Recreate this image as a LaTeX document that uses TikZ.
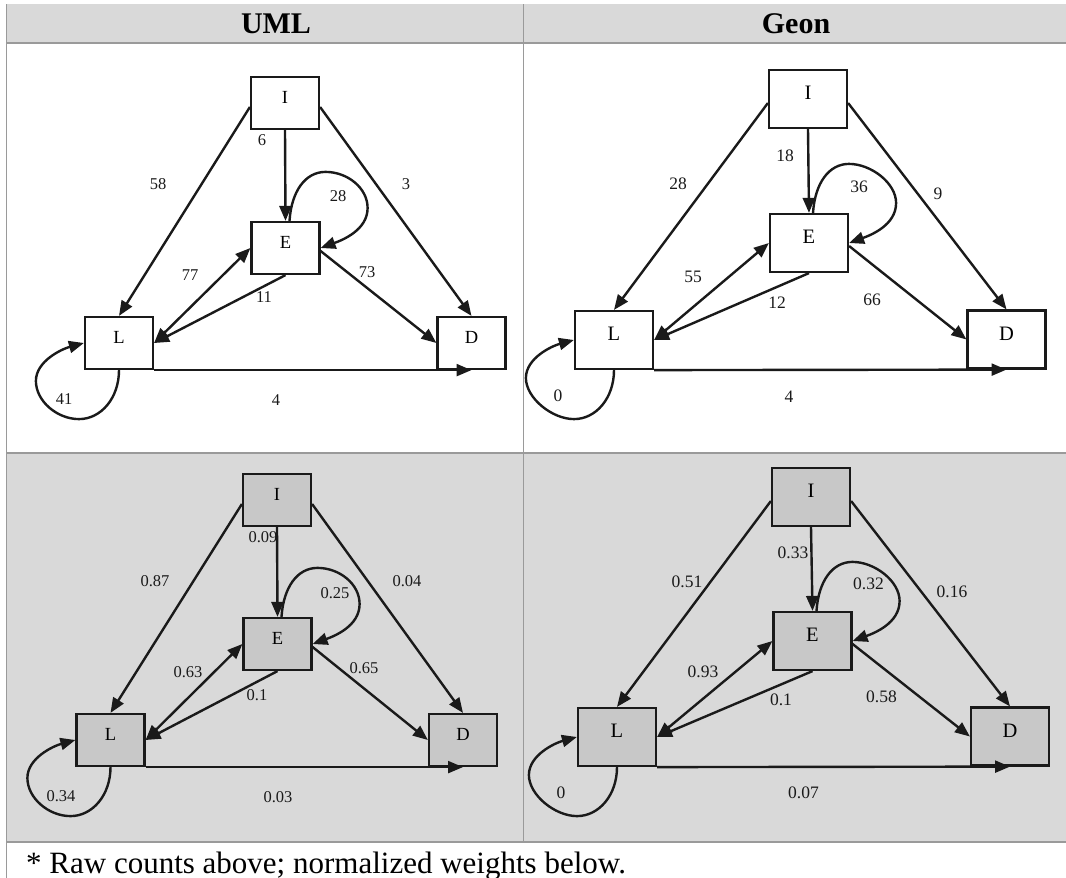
\documentclass[tikz,border=0pt]{standalone}
\usepackage{fontspec}
\setmainfont{Liberation Serif}
\usetikzlibrary{arrows.meta,calc}
\definecolor{bandgray}{HTML}{D9D9D9}
\definecolor{boxgray}{HTML}{C8C8C8}
\definecolor{rulegray}{HTML}{9A9A9A}
\definecolor{inkc}{HTML}{1A1A1A}
\tikzset{
  stbox/.style={draw=inkc, line width=2.2pt, rectangle, inner sep=0pt, text height=12pt, text depth=11pt, font=\fontsize{18.5}{18.5}\selectfont},
  smallbox/.style={stbox, minimum width=68pt, minimum height=52pt},
  bigbox/.style={stbox, minimum width=78pt, minimum height=58pt, font=\fontsize{20.5}{20.5}\selectfont, text height=13pt, text depth=12pt},
  conn/.style={draw=inkc, line width=2.4pt, -{Triangle[length=15pt,width=12pt]}},
  biconn/.style={draw=inkc, line width=2.4pt, {Triangle[length=15pt,width=12pt]}-{Triangle[length=15pt,width=12pt]}},
  wlab/.style={font=\fontsize{16.5}{16.5}\selectfont, inner sep=0pt, text=inkc},
  wlabbig/.style={font=\fontsize{17.5}{17.5}\selectfont, inner sep=0pt, text=inkc},
  tablerule/.style={draw=rulegray, line width=1.2pt},
  headtxt/.style={font=\fontsize{30}{30}\selectfont\bfseries, inner sep=0pt},
  foottxt/.style={font=\fontsize{31}{31}\selectfont, inner sep=0pt},
}
\newcommand\eloop[1]{%
  \draw[conn] ($(#1.north)+(4,0)$) .. controls ($(#1.north)+(6,-30)$) and ($(#1.north)+(20,-49)$) .. ($(#1.north)+(40,-49)$)
    .. controls ($(#1.north)+(62,-49)$) and ($(#1.east)+(47,-60)$) .. ($(#1.east)+(47,-40)$)
    .. controls ($(#1.east)+(47,-18)$) and ($(#1.east)+(22,-8)$) .. (#1.east);}
\newcommand\lloop[1]{%
  \draw[conn] (#1.south) .. controls ($(#1.south)+(0,28)$) and ($(#1.south)+(-18,49)$) .. ($(#1.south)+(-40,49)$)
    .. controls ($(#1.south)+(-62,49)$) and ($(#1.west)+(-48,58)$) .. ($(#1.west)+(-48,38)$)
    .. controls ($(#1.west)+(-48,18)$) and ($(#1.west)+(-22,6)$) .. (#1.west);}
\newcommand\graphedges[1]{%
  \draw[conn] ($(#1I.west)+(0,4)$) -- (#1L.north);
  \draw[conn] (#1I.south) -- (#1E.north);
  \draw[conn] ($(#1I.east)+(0,4)$) -- (#1D.north);
  \eloop{#1E}
  \draw[biconn] (#1L.east) -- (#1E.west);
  \draw[conn] (#1E.south) -- (#1L.east);
  \draw[conn] ($(#1E.east)+(0,3)$) -- (#1D.west);
  \draw[conn] (#1L.south east) -- (#1D.south);
  \lloop{#1L}}
\begin{document}
\begin{tikzpicture}[x=1pt,y=1pt,yscale=-1]
\useasboundingbox (0,0) rectangle (1066,878);
% table
\fill[bandgray] (7,4) rectangle (1066,43);
\fill[bandgray] (7,453) rectangle (1066,842);
\draw[tablerule] (6.5,4) -- (6.5,878);
\draw[tablerule] (523.5,4) -- (523.5,842);
\draw[tablerule] (6.5,43) -- (1066,43);
\draw[tablerule] (6.5,453) -- (1066,453);
\draw[tablerule] (6.5,842) -- (1066,842);
\node[headtxt, anchor=base] (hUML) at (276,34) {UML};
\node[headtxt, anchor=base] (hGeon) at (796,34) {Geon};
\node[foottxt, anchor=base west] (foot) at (26,873) {* Raw counts above; normalized weights below.};
% ---- top left
\node[smallbox] (aI) at (285,103) {I};
\node[smallbox] (aE) at (285.5,248) {E};
\node[smallbox] (aL) at (119,343) {L};
\node[smallbox] (aD) at (471.5,343) {D};
\graphedges{a}
\node[wlab] (aw1) at (158,184) {58};
\node[wlab] (aw2) at (262,140) {6};
\node[wlab] (aw3) at (406,184) {3};
\node[wlab] (aw4) at (338,196) {28};
\node[wlab] (aw5) at (190,275) {77};
\node[wlab] (aw6) at (264,297) {11};
\node[wlab] (aw7) at (367,272) {73};
\node[wlab] (aw8) at (64,399) {41};
\node[wlab] (aw9) at (276,400) {4};
% ---- top right
\node[bigbox] (bI) at (808,99) {I};
\node[bigbox] (bE) at (809,243) {E};
\node[bigbox] (bL) at (614,340) {L};
\node[bigbox] (bD) at (1006.5,339.5) {D};
\graphedges{b}
\node[wlabbig] (bw1) at (678,184) {28};
\node[wlabbig] (bw2) at (785,156) {18};
\node[wlabbig] (bw3) at (938,194) {9};
\node[wlabbig] (bw4) at (859,187) {36};
\node[wlabbig] (bw5) at (693,277) {55};
\node[wlabbig] (bw6) at (777,303) {12};
\node[wlabbig] (bw7) at (872,300) {66};
\node[wlabbig] (bw8) at (558,396) {0};
\node[wlabbig] (bw9) at (789,397) {4};
% ---- bottom left
\node[smallbox, fill=boxgray] (cI) at (277,500) {I};
\node[smallbox, fill=boxgray] (cE) at (277.5,644) {E};
\node[smallbox, fill=boxgray] (cL) at (110.5,740) {L};
\node[smallbox, fill=boxgray] (cD) at (463,740) {D};
\graphedges{c}
\node[wlab] (cw1) at (155,581) {0.87};
\node[wlab] (cw2) at (263,537) {0.09};
\node[wlab] (cw3) at (407,581) {0.04};
\node[wlab] (cw4) at (335,593) {0.25};
\node[wlab] (cw5) at (188,672) {0.63};
\node[wlab] (cw6) at (257,695) {0.1};
\node[wlab] (cw7) at (364,668) {0.65};
\node[wlab] (cw8) at (61,796) {0.34};
\node[wlab] (cw9) at (278,797) {0.03};
% ---- bottom right
\node[bigbox, fill=boxgray] (dI) at (811,497) {I};
\node[bigbox, fill=boxgray] (dE) at (812.5,641) {E};
\node[bigbox, fill=boxgray] (dL) at (617,737) {L};
\node[bigbox, fill=boxgray] (dD) at (1010,736.5) {D};
\graphedges{d}
\node[wlabbig] (dw1) at (687,582) {0.51};
\node[wlabbig] (dw2) at (793,553) {0.33};
\node[wlabbig] (dw3) at (952,592) {0.16};
\node[wlabbig] (dw4) at (868.5,584) {0.32};
\node[wlabbig] (dw5) at (703,672) {0.93};
\node[wlabbig] (dw6) at (781,700) {0.1};
\node[wlabbig] (dw7) at (881.5,697) {0.58};
\node[wlabbig] (dw8) at (561,793) {0};
\node[wlabbig] (dw9) at (803.5,793) {0.07};
\end{tikzpicture}
\end{document}
